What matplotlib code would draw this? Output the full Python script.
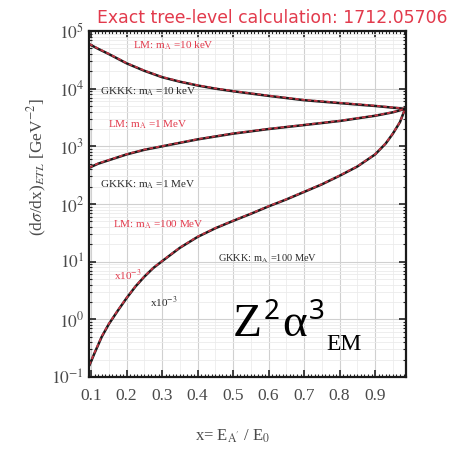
import numpy as np
import matplotlib
matplotlib.use("Agg")
import matplotlib.pyplot as plt
from matplotlib.ticker import MultipleLocator, LogLocator, NullFormatter

plt.rcParams['font.family'] = ['Liberation Serif', 'DejaVu Serif']
plt.rcParams['mathtext.fontset'] = 'stix'

# x = E_A' / E_0
x_10keV = [0.095, 0.12, 0.15, 0.2, 0.25, 0.3, 0.35, 0.4, 0.45, 0.5, 0.55, 0.6, 0.7, 0.8, 0.9, 0.985]
gkkk_10keV = [58900, 49000, 39800, 27500, 20400, 15800, 13200, 11350, 10000, 9020, 8220, 7500, 6310, 5620, 5010, 4470]
lm_10keV = [59500, 49500, 40200, 27800, 20650, 16000, 13350, 11480, 10120, 9120, 8310, 7580, 6400, 5700, 5080, 4500]

x_1MeV = [0.095, 0.12, 0.15, 0.2, 0.25, 0.3, 0.35, 0.4, 0.45, 0.5, 0.6, 0.7, 0.8, 0.9, 0.95, 0.985]
gkkk_1MeV = [427, 501, 575, 724, 871, 1000, 1150, 1320, 1480, 1660, 1995, 2340, 2750, 3390, 3890, 4470]
lm_1MeV = [432, 507, 582, 732, 880, 1010, 1162, 1333, 1495, 1676, 2015, 2360, 2775, 3420, 3920, 4500]

x_100MeV = [0.095, 0.11, 0.13, 0.15, 0.175, 0.2, 0.225, 0.25, 0.275, 0.3, 0.35, 0.4, 0.45, 0.5,
            0.55, 0.6, 0.65, 0.7, 0.75, 0.8, 0.85, 0.9, 0.93, 0.95, 0.97, 0.985]
gkkk_100MeV = [0.158, 0.263, 0.50, 0.83, 1.41, 2.34, 3.72, 5.5, 7.76, 10.2, 17.4, 26.9, 38, 51,
               67.6, 91, 120, 162, 219, 309, 447, 724, 1122, 1660, 2630, 4570]
lm_100MeV = [0.162, 0.268, 0.51, 0.845, 1.43, 2.37, 3.77, 5.57, 7.85, 10.3, 17.6, 27.2, 38.4, 51.5,
             68.3, 92, 121, 164, 221, 312, 451, 730, 1130, 1670, 2645, 4590]

xticks = [0.1, 0.2, 0.3, 0.4, 0.5, 0.6, 0.7, 0.8, 0.9]
yticks = [1e-1, 1e0, 1e1, 1e2, 1e3, 1e4, 1e5]
ytick_labels = [r'$10^{-1}$', r'$10^{0}$', r'$10^{1}$', r'$10^{2}$', r'$10^{3}$', r'$10^{4}$', r'$10^{5}$']

RED = '#e23a4c'
LABEL_GRAY = '#4a4a4a'

fig = plt.figure(figsize=(4.73, 4.55), dpi=100)
ax = fig.add_axes([89 / 473, 78 / 455, 317 / 473, 346 / 455])

ax.set_yscale('log')
ax.set_xlim(0.094, 0.987)
ax.set_ylim(1e-1, 1e5)

ax.grid(which='major', color='#d0d0d0', lw=0.8)
ax.grid(which='minor', axis='y', color='#ebebeb', lw=0.6)
for gx in np.arange(0.15, 0.96, 0.1):
    ax.axvline(gx, color='#ececec', lw=0.6, zorder=0)
ax.set_axisbelow(True)

for xs, g, l in [(x_10keV, gkkk_10keV, lm_10keV),
                 (x_1MeV, gkkk_1MeV, lm_1MeV),
                 (x_100MeV, gkkk_100MeV, lm_100MeV)]:
    ax.plot(xs, g, color='#1a1a1a', lw=1.8, solid_capstyle='round')
    ax.plot(xs, l, color=RED, lw=1.3, ls=(0, (2, 1.5)), alpha=0.85)

ax.set_xticks(xticks)
ax.set_xticklabels([f'{t:.1f}' for t in xticks])
ax.xaxis.set_minor_locator(MultipleLocator(0.01))
ax.set_yticks(yticks)
ax.set_yticklabels(ytick_labels)
ax.yaxis.set_minor_locator(LogLocator(base=10, subs=np.arange(2, 10)))
ax.yaxis.set_minor_formatter(NullFormatter())

ax.tick_params(which='both', direction='in', top=True, right=True, colors='#222222',
               labelcolor=LABEL_GRAY, labelsize=12.5)
ax.tick_params(which='major', length=5, width=1.2)
ax.tick_params(which='minor', length=2.5, width=0.8)
ax.tick_params(axis='x', pad=8)
for s in ax.spines.values():
    s.set_linewidth(1.6)
    s.set_color('#1a1a1a')

# curve annotations
lab = dict(fontsize=8, transform=fig.transFigure, va='center', ha='left')
def ftxt(px, py, s, **kw):
    fig.text(px / 473, 1 - py / 455, s, **{**lab, **kw})

ftxt(133, 46, r'LM: m$_{\mathrm{A}}$ =10 keV', color=RED)
ftxt(100, 92, r'GKKK: m$_{\mathrm{A}}$ =10 keV', color='#2a2a2a')
ftxt(108, 125, r'LM: m$_{\mathrm{A}}$ =1 MeV', color=RED)
ftxt(100, 185, r'GKKK: m$_{\mathrm{A}}$ =1 MeV', color='#2a2a2a')
ftxt(113, 225, r'LM: m$_{\mathrm{A}}$ =100 MeV', color=RED)
ftxt(218, 259, r'GKKK: m$_{\mathrm{A}}$ =100 MeV', color='#2a2a2a', fontsize=7.5)
ftxt(114, 275, r'x10$^{-3}$', color=RED, fontsize=8)
ftxt(150, 302, r'x10$^{-3}$', color='#2a2a2a', fontsize=8)

# coupling factor
big = 34
fig.text(233 / 473, 1 - 336 / 455, 'Z', fontsize=big, family='Liberation Serif', color='black', va='baseline')
fig.text(264 / 473, 1 - 319 / 455, '2', fontsize=20, family='Noto Sans', color='black', va='baseline')
fig.text(282 / 473, 1 - 336 / 455, 'α', fontsize=big, family='Liberation Serif', color='black', va='baseline')
fig.text(309 / 473, 1 - 319 / 455, '3', fontsize=20, family='Noto Sans', color='black', va='baseline')
fig.text(326 / 473, 1 - 350 / 455, 'EM', fontsize=17, family='Liberation Serif', color='black', va='baseline')

# title and axis labels
fig.text(272 / 473, 1 - 18 / 455, 'Exact tree-level calculation: 1712.05706', color=RED,
         fontsize=12.4, family='DejaVu Sans', ha='center', va='center')
fig.text(233 / 473, 1 - 436 / 455, r"x= E$_{\mathrm{A'}}$ / E$_{0}$", color=LABEL_GRAY,
         fontsize=12, ha='center', va='center')
fig.text(37 / 473, 1 - 167 / 455, r'(d$\sigma$/dx)$_{ETL}$ [GeV$^{-2}$]', color=LABEL_GRAY,
         fontsize=12.5, rotation=90, ha='center', va='center')

fig.savefig('out.png', dpi=100, facecolor='white')
